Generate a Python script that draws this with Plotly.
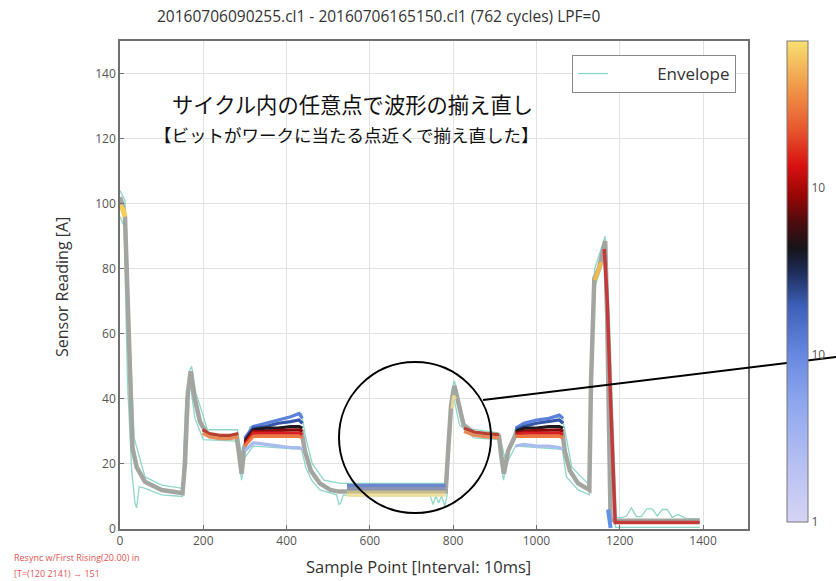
import plotly.graph_objects as go

# ---------------- data ----------------
# median (gray) waveform
base_x = [0, 5, 12, 20, 30, 40, 60, 100, 150, 156,
          163, 170, 178, 192, 210, 250, 280, 287, 292, 298,
          312, 350, 400, 436, 444, 458, 480, 505, 525, 545,
          600, 700, 782, 787, 795, 803, 812, 825, 850, 880,
          910, 916, 922, 932, 952, 1000, 1062, 1068, 1080, 1100,
          1127, 1131, 1139, 1150, 1165, 1170, 1174, 1178, 1190, 1300,
          1392]
base_y = [102, 100, 96, 60, 25, 19, 14.5, 12, 11, 20,
          42, 48.5, 41, 33, 29, 28, 28.5, 22, 17, 25,
          29.5, 30, 30, 30, 24, 18, 14, 12, 11.5, 11.5,
          11.5, 11.5, 11.5, 22, 38, 44, 39, 32, 29.5, 29,
          28.5, 22, 17, 24, 29.5, 30, 30, 24, 18, 14,
          12, 45, 77, 80, 88.5, 65, 38, 3, 2.5, 2.5,
          2.5]

# envelope (min / max over cycles)
env_lo_x = [0, 10, 18, 28, 36, 40, 46, 60, 100, 150,
            153, 158, 168, 180, 200, 280, 287, 292, 300, 320,
            436, 446, 460, 480, 520, 526, 530, 536, 560, 745,
            752, 758, 765, 772, 780, 785, 792, 802, 815, 850,
            910, 916, 921, 928, 950, 1062, 1072, 1100, 1127, 1131,
            1139, 1165, 1170, 1174, 1190, 1392]
env_lo_y = [96, 93, 45, 18, 8, 6.5, 13, 12.5, 10.5, 10,
            24, 40, 45, 34, 27.5, 27, 19, 15, 22, 25.5,
            24.5, 19, 15, 12, 10.5, 7.5, 8, 10.5, 10.2, 10.2,
            7.5, 10.2, 8, 10.2, 7, 10.2, 34, 40, 32, 28,
            27.5, 19, 15, 20, 25.5, 24.5, 16, 12, 10.5, 40,
            74, 84, 55, 25, 0.5, 0.5]
env_hi_x = [0, 12, 22, 34, 60, 100, 150, 157, 165, 172,
            182, 210, 282, 289, 296, 312, 400, 436, 446, 462,
            490, 530, 782, 787, 796, 803, 812, 830, 910, 918,
            926, 950, 1000, 1062, 1070, 1085, 1127, 1131, 1140, 1165,
            1176, 1184, 1192, 1205, 1216, 1228, 1240, 1252, 1265, 1278,
            1290, 1302, 1314, 1326, 1340, 1360, 1392]
env_hi_y = [104, 101, 64, 28, 16, 13.5, 12.5, 32, 48, 50,
            42, 30.5, 30.5, 25, 21, 31.5, 34, 35.5, 28, 20,
            15, 14, 14, 28, 42, 45.5, 41, 31, 29.5, 25,
            21, 31, 33.5, 34.5, 29, 19, 13.5, 52, 80, 90,
            62, 30, 3.5, 3.5, 4, 6.5, 3.8, 3.8, 6.2, 6.2,
            4, 6, 6, 3.6, 4.5, 3.2, 3.2]

# density layers, first plateau
p1_x = [300, 320, 350, 380, 410, 430, 438]
p1_lo = [24, 26.5, 26, 25.5, 25, 25, 24.5]
p1_blue = [28, 31.5, 32.5, 33.5, 34.5, 35.5, 34]
p1_blue2 = [27.5, 31, 31.5, 32.5, 33, 33.5, 32.5]
p1_black = [27, 30.5, 31, 31, 31.5, 31.5, 31]
p1_dred = [26.5, 30, 30, 30.3, 30.5, 30.5, 30]
p1_red = [26, 29.5, 29.5, 29.5, 29.5, 29.5, 29]
p1_orange = [25.5, 28.5, 28.5, 28.5, 28.5, 28.5, 28]

# density layers, second plateau
p2_x = [950, 970, 1000, 1030, 1055, 1064]
p2_lo = [25.5, 26, 25.5, 25.5, 25, 24.5]
p2_blue = [31, 32.5, 33.5, 34, 35, 34]
p2_blue2 = [30.5, 31.5, 32.5, 33, 33.5, 32.5]
p2_black = [30, 31, 31, 31.5, 31.5, 31]
p2_dred = [29.5, 30, 30.3, 30.5, 30.5, 30]
p2_red = [29, 29.5, 29.5, 29.5, 29.5, 29]
p2_orange = [28.5, 28.5, 28.5, 28.5, 28.5, 28]

# short plateaus after the two rising peaks
b_x = [198, 215, 240, 265, 284]
b_red = [30.5, 29.3, 28.8, 28.8, 29.3]
b_orange = [29.5, 28.3, 27.8, 27.8, 28.3]
c_x = [826, 850, 880, 910]
c_red = [31, 29.8, 29.3, 29]
c_orange = [30, 28.8, 28.3, 28]

# flat segment between the two parts of the cycle
d_x = [545, 600, 700, 782]
d_blue = [13.4, 13.4, 13.4, 13.4]
d_grey = [12.4, 12.4, 12.4, 12.4]
d_khaki = [11.3, 11.3, 11.3, 11.3]
d_yellow = [10.4, 10.4, 10.4, 10.4]

# dense spots on the peaks
pk0_x = [0, 6, 12]
pk0_y = [99.5, 98.5, 96]
pk800_x = [797, 801, 806]
pk800_y = [37, 41, 40]
pk2_x = [1140, 1148, 1156]
pk2_y = [76.5, 79, 82]

# falling edge of the last pulse
fall_x = [1163, 1170, 1178, 1184, 1189, 1392]
fall_y = [86, 70, 40, 15, 2, 2]
fallb_x = [1172, 1175, 1178]
fallb_y = [6, 2, 0.3]

# colour bar (log10 of count)
cb_vals = [0, 1, 2]
cb_text = ["1", "10", "10"]
cb_max = 2.88

title_text = "20160706090255.cl1 - 20160706165150.cl1 (762 cycles) LPF=0"
x_title = "Sample Point [Interval: 10ms]"
y_title = "Sensor Reading [A]"
note1 = "サイクル内の任意点で波形の揃え直し"
note2 = "【ビットがワークに当たる点近くで揃え直した】"
info1 = "Resync w/First Rising(20.00) in"
info2 = "[T=(120 2141) → 151"
legend_name = "\u00a0" * 10 + "Envelope"

# ---------------- layout helpers ----------------
W, H = 836, 581
L, R, T, B = 120, 748, 41, 529


def px(x):
    return (x - L) / (R - L)


def py(y):
    return (B - y) / (B - T)


colorscale = [
    [0.0, "#d6d4f5"], [0.12, "#b6c0f2"], [0.25, "#8ea6ee"], [0.35, "#6688e0"],
    [0.45, "#3d5fb8"], [0.52, "#1e2c58"], [0.57, "#161418"], [0.62, "#4a0c10"],
    [0.68, "#9a0606"], [0.74, "#d81010"], [0.82, "#e85a30"], [0.9, "#f09548"],
    [1.0, "#f8e070"],
]

fig = go.Figure()


def line(x, y, color, width, name=None, legend=False):
    fig.add_trace(go.Scatter(x=x, y=y, mode="lines", name=name,
                             line=dict(color=color, width=width),
                             showlegend=legend, hoverinfo="skip"))


ENV = "#8fd6c8"
line(env_lo_x, env_lo_y, ENV, 1.3, legend_name, True)
line(env_hi_x, env_hi_y, ENV, 1.3)
line(base_x, base_y, "#a2a5a0", 4.5)

for xs, ys, c in [
    (p1_x, p1_lo, "#a8bcf0"), (p1_x, p1_blue, "#5c80dc"), (p1_x, p1_blue2, "#3556a8"),
    (p1_x, p1_black, "#1c1820"), (p1_x, p1_dred, "#8a0a0a"), (p1_x, p1_red, "#d82020"),
    (p1_x, p1_orange, "#ee7a40"),
    (p2_x, p2_lo, "#a8bcf0"), (p2_x, p2_blue, "#5c80dc"), (p2_x, p2_blue2, "#3556a8"),
    (p2_x, p2_black, "#1c1820"), (p2_x, p2_dred, "#8a0a0a"), (p2_x, p2_red, "#d82020"),
    (p2_x, p2_orange, "#ee7a40"),
    (b_x, b_red, "#b84030"), (b_x, b_orange, "#e88a58"),
    (c_x, c_red, "#b84030"), (c_x, c_orange, "#e88a58"),
    (d_x, d_blue, "#6a86d0"), (d_x, d_grey, "#8a94b0"), (d_x, d_khaki, "#c8bc88"),
    (d_x, d_yellow, "#efe0a0"),
]:
    line(xs, ys, c, 3.2)

line(pk0_x, pk0_y, "#f5cf5a", 5)
line(pk800_x, pk800_y, "#e8d898", 3)
line(pk2_x, pk2_y, "#f2b84a", 4)
line(fall_x, fall_y, "#c43a3a", 3.5)
line(fallb_x, fallb_y, "#5f8fe8", 4)

# colour bar carrier (out of the visible range)
fig.add_trace(go.Scatter(
    x=[0], y=[-50], mode="markers", showlegend=False, hoverinfo="skip",
    marker=dict(color=[0], cmin=0, cmax=cb_max, colorscale=colorscale, showscale=True,
                colorbar=dict(x=px(787), xanchor="left", thickness=21, thicknessmode="pixels",
                              len=(522 - 41) / (B - T), y=py((522 + 41) / 2), yanchor="middle",
                              outlinecolor="#777", outlinewidth=1, ticks="",
                              tickvals=cb_vals, ticktext=cb_text,
                              tickfont=dict(size=12, color="#555", family="Open Sans"),
                              xpad=0, ypad=0))))

axis_common = dict(showline=True, mirror=True, linecolor="#707070", linewidth=1.5,
                   showgrid=True, gridcolor="#e2e2e2", gridwidth=1, zeroline=False,
                   ticks="inside", ticklen=4, tickcolor="#707070",
                   tickfont=dict(size=12, color="#555", family="Open Sans"),
                   automargin=False)

fig.update_layout(
    width=W, height=H,
    margin=dict(l=L, r=W - R, t=T, b=H - B, pad=0),
    paper_bgcolor="white", plot_bgcolor="white",
    xaxis=dict(range=[0, 1508], dtick=200, tick0=0, **axis_common),
    yaxis=dict(range=[0, 150], dtick=20, tick0=0, **axis_common),
    legend=dict(x=px(572), y=py(55), xanchor="left", yanchor="top",
                bordercolor="#888", borderwidth=1, bgcolor="white",
                font=dict(size=17, color="#333", family="Open Sans"), itemwidth=30),
    font=dict(family="Open Sans"),
)

ann = [
    dict(text=title_text, x=px(378), y=py(16), font=dict(size=15.5, color="#333")),
    dict(text=x_title, x=px(418), y=py(566), font=dict(size=16.5, color="#333")),
    dict(text=y_title, x=px(62), y=py(287), textangle=-90, font=dict(size=16, color="#333")),
    dict(text=note1, x=px(352), y=py(104),
         font=dict(size=21.3, color="#111", family="Noto Sans CJK JP")),
    dict(text=note2, x=px(346), y=py(134),
         font=dict(size=17.5, color="#111", family="Noto Sans CJK JP")),
    dict(text=info1, x=px(12), y=py(557), xanchor="left",
         font=dict(size=9, color="#e05555")),
    dict(text=info2, x=px(12), y=py(573), xanchor="left",
         font=dict(size=9, color="#e05555")),
]
for a in ann:
    base = dict(xref="paper", yref="paper", showarrow=False, xanchor="center", yanchor="middle")
    base.update(a)
    fig.add_annotation(**base)

# highlight circle and pointer line
fig.add_shape(type="circle", xref="paper", yref="paper",
              x0=px(339), x1=px(491), y0=py(513), y1=py(362),
              line=dict(color="black", width=2))
fig.add_shape(type="line", xref="paper", yref="paper",
              x0=px(483), y0=py(400), x1=px(836), y1=py(357),
              line=dict(color="black", width=2))

fig.write_html("out.html", config={"displayModeBar": False},
               post_script="document.body.style.margin='0';document.body.style.overflow='hidden';")
